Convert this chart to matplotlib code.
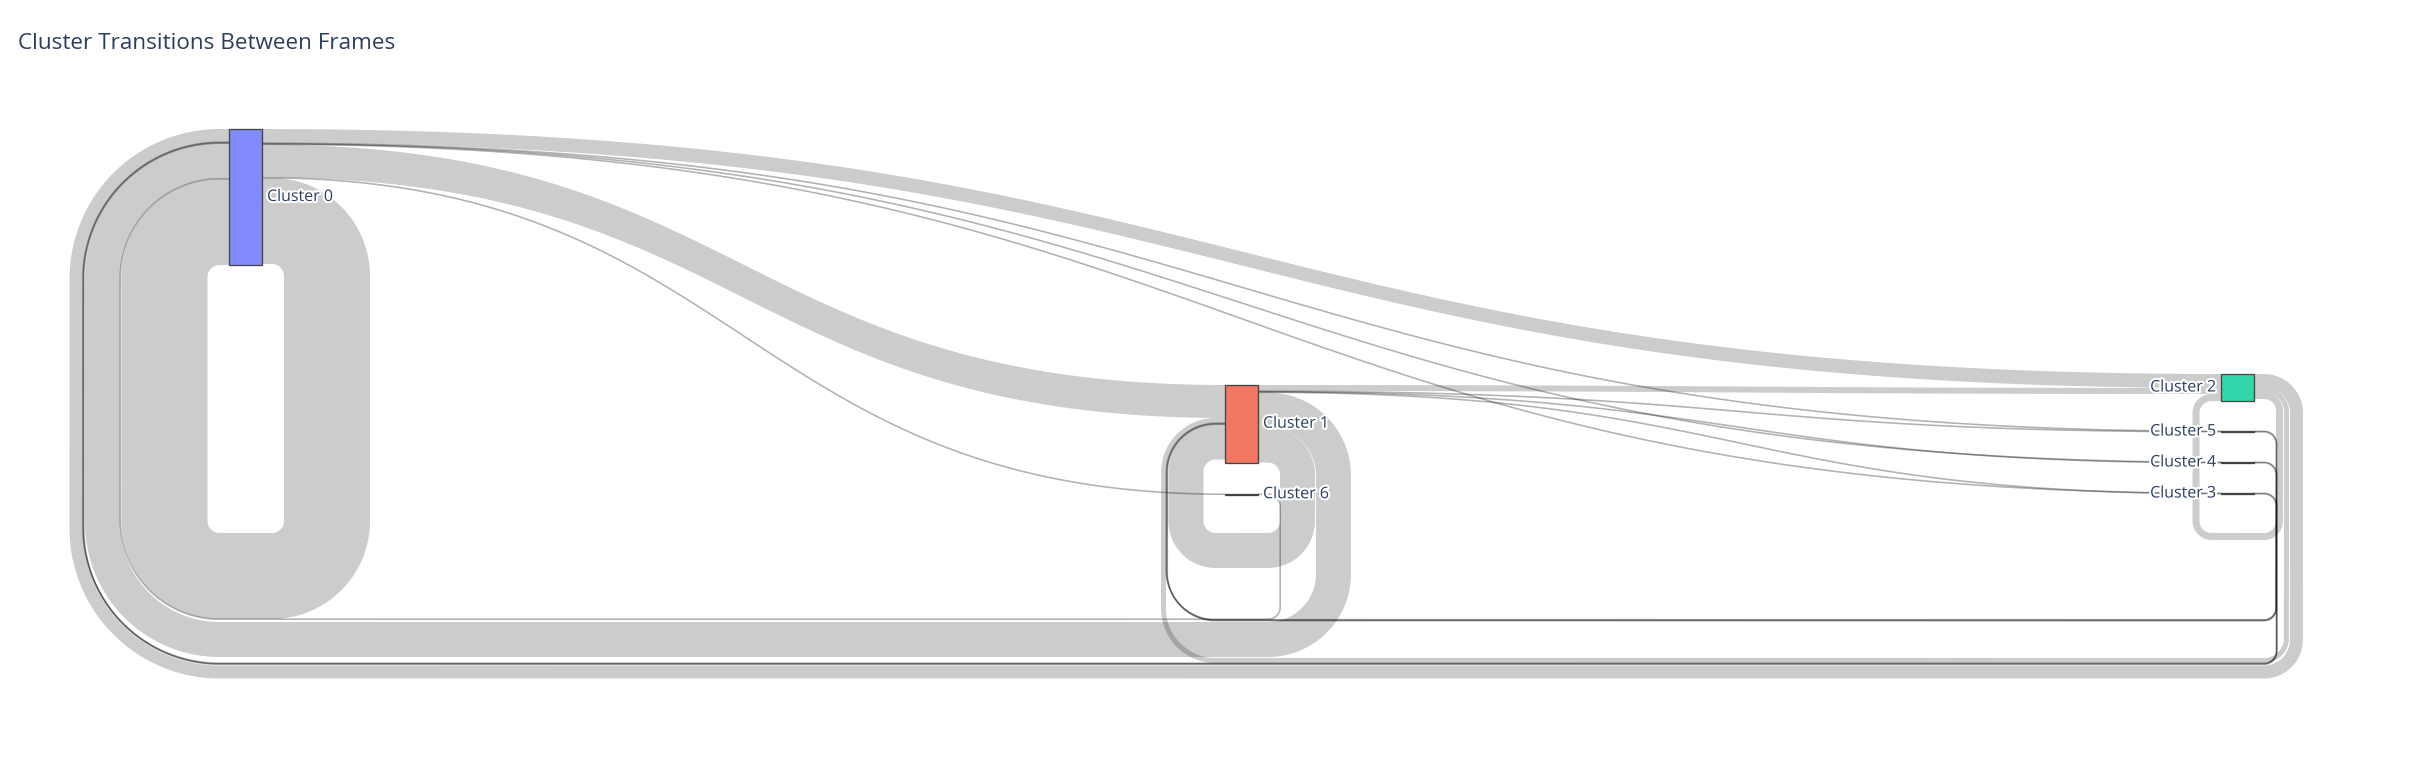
import numpy as np
import matplotlib
matplotlib.use("Agg")
import matplotlib.pyplot as plt
from matplotlib.patches import Rectangle, Polygon
import matplotlib.patheffects as pe

# ---------------- data ----------------
title_text = "Cluster Transitions Between Frames"
node_labels = ["Cluster 0", "Cluster 1", "Cluster 2", "Cluster 3",
               "Cluster 4", "Cluster 5", "Cluster 6"]
node_colors = ["#828BFB", "#F27762", "#33D6AB", "#BC82FB",
               "#FFB47B", "#47DCF5", "#FF85A8"]
link_source = [0, 0, 0, 0, 0, 0, 0, 1, 1, 1, 1, 1, 1, 2, 2, 2, 3, 3, 4, 4, 5, 5, 6]
link_target = [0, 1, 2, 3, 4, 5, 6, 0, 1, 2, 3, 4, 5, 0, 1, 2, 0, 1, 0, 1, 0, 1, 0]
link_value = [172, 66, 28, 1, 1, 1, 1, 70, 70, 12, 1, 1, 1, 26, 10, 14, 1, 1, 1, 1, 1, 1, 1]

# ---------------- layout (pixels) ----------------
W, H, DPI = 2417, 761, 100
PX_PER_UNIT = 0.5
NODE_W = 32.5
col_x = [229.5, 1225.5, 2221.5]
node_col = [0, 1, 2, 2, 2, 2, 1]
node_top = [129, 385, 374, 493, 462, 431, 494]
out_order = {0: [(0, 2), (0, 5), (0, 4), (0, 3), (0, 1), (0, 6), (0, 0)],
             1: [(1, 2), (1, 5), (1, 4), (1, 3), (1, 0), (1, 1)],
             2: [(2, 0), (2, 1), (2, 2)],
             3: [(3, 0), (3, 1)], 4: [(4, 0), (4, 1)], 5: [(5, 0), (5, 1)],
             6: [(6, 0)]}
in_order = {0: [(2, 0), (5, 0), (4, 0), (3, 0), (1, 0), (6, 0), (0, 0)],
            1: [(0, 1), (2, 1), (5, 1), (4, 1), (3, 1), (1, 1)],
            2: [(0, 2), (1, 2), (2, 2)],
            3: [(0, 3), (1, 3)], 4: [(0, 4), (1, 4)], 5: [(0, 5), (1, 5)],
            6: [(0, 6)]}
bottom_order = [(0, 0), (1, 1), (2, 2), (6, 0), (5, 1), (4, 1), (3, 1),
                (1, 0), (2, 1), (5, 0), (4, 0), (3, 0), (2, 0)]
BASE_R, BUFFER, GAP, BOTTOM_MARGIN = 12.0, 10.0, 1.0, 38.5
LINK_RGBA = (0, 0, 0, 0.2)
TEXT_COLOR = "#2a3f5f"

# ---------------- computations ----------------
links = {}
for s, t, v in zip(link_source, link_target, link_value):
    links[(s, t)] = v * PX_PER_UNIT
n_nodes = len(node_labels)
node_h = []
for n in range(n_nodes):
    vin = sum(w for (s, t), w in links.items() if t == n)
    vout = sum(w for (s, t), w in links.items() if s == n)
    node_h.append(max(vin, vout))
node_x0 = [col_x[c] for c in node_col]
node_x1 = [x + NODE_W for x in node_x0]

ys, yt = {}, {}
for n, order in out_order.items():
    y = node_top[n]
    for k in order:
        ys[k] = y + links[k] / 2
        y += links[k]
for n, order in in_order.items():
    y = node_top[n]
    for k in order:
        yt[k] = y + links[k] / 2
        y += links[k]


def is_circ(k):
    return node_col[k[1]] <= node_col[k[0]]


Ls, Lt = {}, {}
for n, order in out_order.items():
    off = 0.0
    for k in reversed(order):
        if not is_circ(k):
            continue
        w = links[k]
        Ls[k] = BASE_R + w / 2 + off
        off += w + (GAP if w >= 1 else 0.0)
for n, order in in_order.items():
    off = 0.0
    for k in reversed(order):
        if not is_circ(k):
            continue
        w = links[k]
        Lt[k] = BASE_R + w / 2 + off
        off += w + (GAP if w >= 1 else 0.0)

baseline = max(node_top[n] + node_h[n] for n in range(n_nodes)) + BOTTOM_MARGIN
placed = []
yb = {}
for k in bottom_order:
    w = links[k]
    c0, c1 = sorted((node_col[k[0]], node_col[k[1]]))
    top = baseline
    for (pk, pc0, pc1, pbot) in placed:
        if pc0 <= c1 and c0 <= pc1:
            top = max(top, pbot + (GAP if w >= 1 else 0.0))
    yb[k] = top + w / 2
    placed.append((k, c0, c1, top + w))


def arc(cx, cy, r, t0, t1, n=50):
    t = np.linspace(t0, t1, n)
    return list(cx + r * np.cos(t)), list(cy + r * np.sin(t))


def circular_path(k):
    s, t = k
    xs = node_x1[s]
    xt = node_x0[t]
    y0, y1, yB = ys[k], yt[k], yb[k]
    L1, L2 = Ls[k], Lt[k]
    X, Y = [xs], [y0]
    a, b = arc(xs + BUFFER, y0 + L1, L1, -np.pi / 2, 0)
    X += a; Y += b
    xR = xs + BUFFER + L1
    a, b = arc(xR - L1, yB - L1, L1, 0, np.pi / 2)
    X += a; Y += b
    xL = xt - BUFFER - L2
    a, b = arc(xL + L2, yB - L2, L2, np.pi / 2, np.pi)
    X += a; Y += b
    a, b = arc(xt - BUFFER, y1 + L2, L2, np.pi, 1.5 * np.pi)
    X += a; Y += b
    X.append(xt); Y.append(y1)
    return np.array(X), np.array(Y)


def bezier(x0, y0, x1, y1, n=120):
    xm = (x0 + x1) / 2
    t = np.linspace(0, 1, n)
    bx = (1 - t) ** 3 * x0 + 3 * (1 - t) ** 2 * t * xm + 3 * (1 - t) * t ** 2 * xm + t ** 3 * x1
    by = (1 - t) ** 3 * y0 + 3 * (1 - t) ** 2 * t * y0 + 3 * (1 - t) * t ** 2 * y1 + t ** 3 * y1
    return bx, by


# ---------------- drawing ----------------
fig = plt.figure(figsize=(W / DPI, H / DPI), dpi=DPI)
ax = fig.add_axes([0, 0, 1, 1])
ax.set_xlim(0, W)
ax.set_ylim(H, 0)
ax.axis("off")
px2pt = 72.0 / DPI

for (s, t), w in links.items():
    k = (s, t)
    tiny = w < 1
    if is_circ(k):
        X, Y = circular_path(k)
        if tiny:
            ax.plot(X, Y, color="black", alpha=0.3, lw=1.6 * px2pt,
                    solid_capstyle="butt", zorder=2)
        else:
            ax.plot(X, Y, color=LINK_RGBA[:3], alpha=LINK_RGBA[3], lw=w * px2pt,
                    solid_capstyle="butt", solid_joinstyle="round", zorder=1)
    else:
        x0, x1 = node_x1[s], node_x0[t]
        if tiny:
            bx, by = bezier(x0, ys[k], x1, yt[k])
            ax.plot(bx, by, color="black", alpha=0.3, lw=1.6 * px2pt,
                    solid_capstyle="butt", zorder=2)
        else:
            tx, ty = bezier(x0, ys[k] - w / 2, x1, yt[k] - w / 2)
            bx, by = bezier(x0, ys[k] + w / 2, x1, yt[k] + w / 2)
            pts = np.column_stack([np.concatenate([tx, bx[::-1]]),
                                   np.concatenate([ty, by[::-1]])])
            ax.add_patch(Polygon(pts, closed=True, facecolor=LINK_RGBA,
                                 edgecolor="none", zorder=1))

for n in range(n_nodes):
    h = node_h[n]
    ax.add_patch(Rectangle((node_x0[n], node_top[n]), NODE_W, h,
                           facecolor=node_colors[n], edgecolor="#444444",
                           lw=1.3 * px2pt, zorder=3))

halo = [pe.withStroke(linewidth=3, foreground="white")]
for n in range(n_nodes):
    yc = node_top[n] + node_h[n] / 2
    if node_col[n] == len(col_x) - 1:
        ax.text(node_x0[n] - 5, yc, node_labels[n], ha="right", va="center",
                fontsize=11.5, family="Open Sans", color=TEXT_COLOR,
                path_effects=halo, zorder=4)
    else:
        ax.text(node_x1[n] + 5, yc, node_labels[n], ha="left", va="center",
                fontsize=11.5, family="Open Sans", color=TEXT_COLOR,
                path_effects=halo, zorder=4)

ax.text(18, 49, title_text, ha="left", va="baseline", fontsize=16.2,
        family="Open Sans", color=TEXT_COLOR)

fig.savefig("out.png", dpi=DPI, facecolor="white")
